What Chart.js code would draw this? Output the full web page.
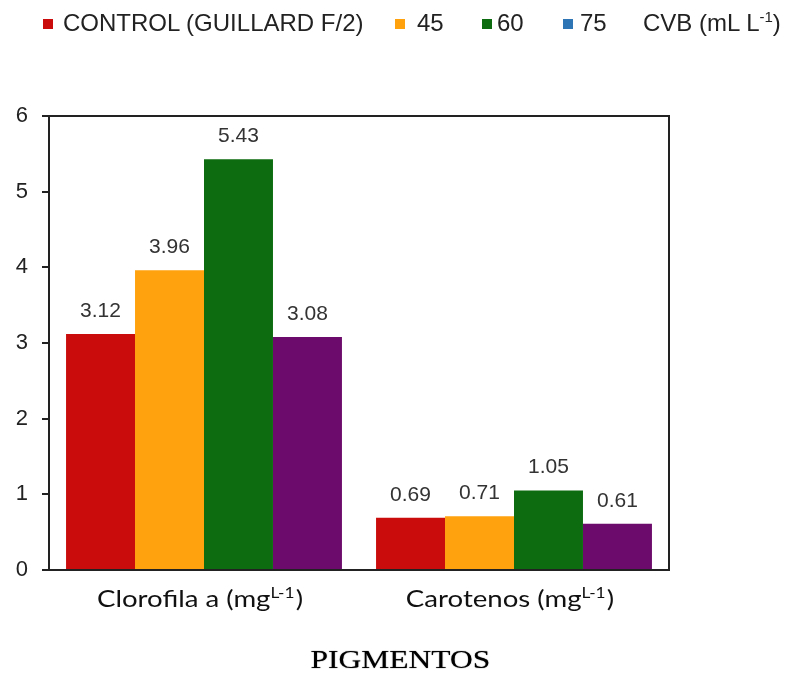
<!DOCTYPE html>
<html>
<head>
<meta charset="utf-8">
<script src="https://cdn.jsdelivr.net/npm/chart.js@4.4.1/dist/chart.umd.min.js"></script>
<style>
  body { margin: 0; background: #fff; }
  #wrap { position: relative; width: 801px; height: 675px; }
  .sq { position: absolute; width: 10px; height: 10px; top: 19px; }
  .lt { position: absolute; top: 9px; font: 24px "Liberation Sans", Arial, sans-serif; color: #222; white-space: nowrap; line-height: 27px; }
  .lt sup { font-size: 15px; vertical-align: 9px; line-height: 0; }
  #title { position: absolute; left: 0; width: 801px; top: 645px; text-align: center; font: 25px "Liberation Serif", "Times New Roman", serif; color: #000; line-height: 30px; text-shadow: 0 0 1px #444; }
  #title span { display: inline-block; transform: scaleX(1.26); }
</style>
</head>
<body>
<div id="wrap">
  <canvas id="chart" width="801" height="675"></canvas>
  <div id="legend"></div>
  <div id="title"><span>PIGMENTOS</span></div>
</div>
<script>
const categories = ['Clorofila a (mg', 'Carotenos (mg'];
const seriesNames = ['CONTROL (GUILLARD F/2)', '45', '60', '75'];
const control = [3.12, 0.69];
const cvb45 = [3.96, 0.71];
const cvb60 = [5.43, 1.05];
const cvb75 = [3.08, 0.61];
const yTicks = [0, 1, 2, 3, 4, 5, 6];

const barColors = ['#CA0C0C', '#FFA20E', '#0C6C0F', '#6C0B6C'];
const legendColors = ['#CA0C0C', '#FFA20E', '#0C6C0F', '#2E75B6'];

// legend drawn as html (the 75 swatch is blue in the original)
const legendPos = [[43, 63], [395, 417], [482, 497], [563, 580]];
const legend = document.getElementById('legend');
seriesNames.forEach((name, i) => {
  legend.innerHTML += '<div class="sq" style="left:' + legendPos[i][0] + 'px;background:' + legendColors[i] + '"></div>' +
    '<div class="lt" style="left:' + legendPos[i][1] + 'px">' + name + '</div>';
});
legend.innerHTML += '<div class="lt" style="left:643px">CVB (mL L<sup>-1</sup>)</div>';

const boxPlugin = {
  id: 'box',
  afterDraw(chart) {
    const { ctx, chartArea: a } = chart;
    ctx.save();
    ctx.strokeStyle = '#222';
    ctx.lineWidth = 2;
    ctx.strokeRect(a.left, a.top, a.right - a.left, a.bottom - a.top);
    ctx.restore();
  }
};

const labelPlugin = {
  id: 'labels',
  afterDatasetsDraw(chart) {
    const ctx = chart.ctx;
    ctx.save();
    ctx.font = '21px "Liberation Sans", Arial, sans-serif';
    ctx.fillStyle = '#333';
    ctx.textAlign = 'center';
    ctx.textBaseline = 'middle';
    chart.data.datasets.forEach((ds, di) => {
      chart.getDatasetMeta(di).data.forEach((bar, i) => {
        ctx.fillText(ds.data[i].toFixed(2), bar.x, bar.y - 23);
      });
    });

    // category labels with superscript, stretched a little like the original
    const x = chart.scales.x;
    const stretch = 1.15;
    const main = '24px Lato, "Open Sans", sans-serif';
    const small = '15px Lato, "Open Sans", sans-serif';
    ctx.fillStyle = '#111';
    ctx.textAlign = 'left';
    ctx.textBaseline = 'alphabetic';
    categories.forEach((c, i) => {
      ctx.font = main;
      const w1 = ctx.measureText(c).width;
      const w3 = ctx.measureText(')').width;
      ctx.font = small;
      const w2 = ctx.measureText('L-1').width;
      const total = (w1 + w2 + w3 + 1) * stretch;
      const cx = x.getPixelForValue(i) - 4;
      const base = 607;
      ctx.save();
      ctx.translate(cx - total / 2, base);
      ctx.scale(stretch, 1);
      let px = 0;
      ctx.font = main;
      ctx.fillText(c, px, 0);
      px += w1;
      ctx.font = small;
      ctx.fillText('L-1', px, -9);
      px += w2 + 1;
      ctx.font = main;
      ctx.fillText(')', px, 0);
      ctx.restore();
    });
    ctx.restore();
  }
};

new Chart(document.getElementById('chart'), {
  type: 'bar',
  data: {
    labels: categories,
    datasets: [control, cvb45, cvb60, cvb75].map((d, i) => ({
      label: seriesNames[i],
      data: d,
      backgroundColor: barColors[i],
      borderWidth: 0,
      categoryPercentage: 0.89,
      barPercentage: 1
    }))
  },
  options: {
    responsive: false,
    animation: false,
    layout: { padding: { top: 116, right: 132, left: 0, bottom: 0 } },
    plugins: {
      legend: { display: false },
      tooltip: { enabled: false }
    },
    scales: {
      x: {
        afterFit(s) { s.height = 105; },
        grid: { display: false },
        border: { display: false },
        ticks: { display: false }
      },
      y: {
        min: 0,
        max: 6,
        afterFit(s) { s.width = 49; },
        afterBuildTicks(s) { s.ticks = yTicks.map(v => ({ value: v })); },
        grid: { drawOnChartArea: false, tickLength: 7, color: '#222', lineWidth: 2 },
        border: { display: false },
        ticks: {
          padding: 14,
          color: '#222',
          font: { family: '"Liberation Sans", Arial, sans-serif', size: 22 }
        }
      }
    }
  },
  plugins: [boxPlugin, labelPlugin]
});
</script>
</body>
</html>
